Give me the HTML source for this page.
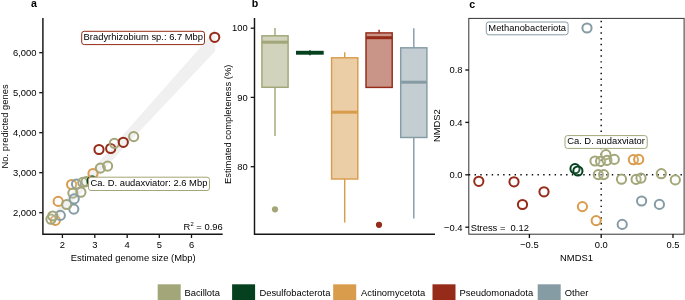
<!DOCTYPE html><html><head><meta charset="utf-8"><title>Figure</title><style>html,body{margin:0;padding:0;background:#fff}svg{display:block;will-change:transform}text{font-family:"Liberation Sans",sans-serif;font-size:9.4px;fill:#000}</style></head><body>
<svg width="685" height="300" viewBox="0 0 685 300">
<rect width="685" height="300" fill="#fff"/>
<text transform="translate(31,7.4) scale(1,1.04)" font-weight="bold" style="font-size:10.6px">a</text>
<polygon points="215.3,28.6 215.3,50.9 50,226.1 50,217.5 203,44.6" fill="#f0f0f0"/>
<path d="M42.9,18 V234.3 H222.7" fill="none" stroke="#151515" stroke-width="1.45"/>
<path d="M39.2,52.7 H42.8" stroke="#151515" stroke-width="1.3"/>
<text transform="translate(36.5,55.8) scale(1,1.04)" text-anchor="end">6,000</text>
<path d="M39.2,92.7 H42.8" stroke="#151515" stroke-width="1.3"/>
<text transform="translate(36.5,95.8) scale(1,1.04)" text-anchor="end">5,000</text>
<path d="M39.2,132.7 H42.8" stroke="#151515" stroke-width="1.3"/>
<text transform="translate(36.5,135.8) scale(1,1.04)" text-anchor="end">4,000</text>
<path d="M39.2,172.7 H42.8" stroke="#151515" stroke-width="1.3"/>
<text transform="translate(36.5,175.8) scale(1,1.04)" text-anchor="end">3,000</text>
<path d="M39.2,212.7 H42.8" stroke="#151515" stroke-width="1.3"/>
<text transform="translate(36.5,215.8) scale(1,1.04)" text-anchor="end">2,000</text>
<path d="M62.4,234.2 V238" stroke="#151515" stroke-width="1.3"/>
<text transform="translate(62.4,248) scale(1,1.04)" text-anchor="middle">2</text>
<path d="M94.8,234.2 V238" stroke="#151515" stroke-width="1.3"/>
<text transform="translate(94.8,248) scale(1,1.04)" text-anchor="middle">3</text>
<path d="M127.2,234.2 V238" stroke="#151515" stroke-width="1.3"/>
<text transform="translate(127.2,248) scale(1,1.04)" text-anchor="middle">4</text>
<path d="M159.3,234.2 V238" stroke="#151515" stroke-width="1.3"/>
<text transform="translate(159.3,248) scale(1,1.04)" text-anchor="middle">5</text>
<path d="M191.5,234.2 V238" stroke="#151515" stroke-width="1.3"/>
<text transform="translate(191.5,248) scale(1,1.04)" text-anchor="middle">6</text>
<text transform="translate(133.2,260.5) scale(1,1.04)" text-anchor="middle">Estimated genome size (Mbp)</text>
<text transform="translate(7.5,126.4) rotate(-90) scale(1,1.04)" text-anchor="middle">No. predicted genes</text>
<circle cx="55.3" cy="220.4" r="4.6" fill="rgba(255,255,255,0.12)" stroke="#d99c4d" stroke-width="2.0"/>
<circle cx="58.2" cy="201.4" r="4.6" fill="rgba(255,255,255,0.12)" stroke="#d99c4d" stroke-width="2.0"/>
<circle cx="71.6" cy="184.5" r="4.6" fill="rgba(255,255,255,0.12)" stroke="#d99c4d" stroke-width="2.0"/>
<circle cx="60.3" cy="215.4" r="4.6" fill="rgba(255,255,255,0.12)" stroke="#869ca5" stroke-width="2.0"/>
<circle cx="73.8" cy="209.1" r="4.6" fill="rgba(255,255,255,0.12)" stroke="#869ca5" stroke-width="2.0"/>
<circle cx="76.5" cy="184.1" r="4.6" fill="rgba(255,255,255,0.12)" stroke="#869ca5" stroke-width="2.0"/>
<circle cx="51" cy="219.2" r="4.6" fill="rgba(255,255,255,0.12)" stroke="#a3a678" stroke-width="2.0"/>
<circle cx="52.8" cy="216" r="4.6" fill="rgba(255,255,255,0.12)" stroke="#a3a678" stroke-width="2.0"/>
<circle cx="66.7" cy="204.5" r="4.6" fill="rgba(255,255,255,0.12)" stroke="#a3a678" stroke-width="2.0"/>
<circle cx="72.9" cy="193.1" r="4.6" fill="rgba(255,255,255,0.12)" stroke="#a3a678" stroke-width="2.0"/>
<circle cx="80.9" cy="192.2" r="4.6" fill="rgba(255,255,255,0.12)" stroke="#a3a678" stroke-width="2.0"/>
<circle cx="82.8" cy="182.4" r="4.6" fill="rgba(255,255,255,0.12)" stroke="#a3a678" stroke-width="2.0"/>
<circle cx="86.1" cy="181.6" r="4.6" fill="rgba(255,255,255,0.12)" stroke="#a3a678" stroke-width="2.0"/>
<circle cx="74.2" cy="198.9" r="4.6" fill="rgba(255,255,255,0.12)" stroke="#869ca5" stroke-width="2.0"/>
<circle cx="92.1" cy="180.9" r="4.6" fill="rgba(255,255,255,0.12)" stroke="#06411f" stroke-width="2.0"/>
<circle cx="93" cy="173.5" r="4.6" fill="rgba(255,255,255,0.12)" stroke="#d99c4d" stroke-width="2.0"/>
<circle cx="100.4" cy="168.1" r="4.6" fill="rgba(255,255,255,0.12)" stroke="#a3a678" stroke-width="2.0"/>
<circle cx="107.6" cy="166.1" r="4.6" fill="rgba(255,255,255,0.12)" stroke="#a3a678" stroke-width="2.0"/>
<circle cx="99" cy="149.5" r="4.6" fill="rgba(255,255,255,0.12)" stroke="#952b18" stroke-width="2.0"/>
<circle cx="110.7" cy="148.5" r="4.6" fill="rgba(255,255,255,0.12)" stroke="#952b18" stroke-width="2.0"/>
<circle cx="114.4" cy="143.3" r="4.6" fill="rgba(255,255,255,0.12)" stroke="#a3a678" stroke-width="2.0"/>
<circle cx="123.3" cy="142.3" r="4.6" fill="rgba(255,255,255,0.12)" stroke="#952b18" stroke-width="2.0"/>
<circle cx="133.7" cy="136.6" r="4.6" fill="rgba(255,255,255,0.12)" stroke="#a3a678" stroke-width="2.0"/>
<circle cx="214.7" cy="37.3" r="4.6" fill="rgba(255,255,255,0.12)" stroke="#952b18" stroke-width="2.0"/>
<rect x="81.7" y="31.3" width="122.8" height="13.3" rx="2.5" fill="#fff" stroke="#952b18" stroke-width="1"/>
<text transform="translate(143.3,40.2) scale(1,1.04)" text-anchor="middle">Bradyrhizobium sp.: 6.7 Mbp</text>
<rect x="88.5" y="177.2" width="121" height="13.3" rx="2.5" fill="#fff" stroke="#a3a678" stroke-width="1"/>
<text transform="translate(148.9,186.3) scale(1,1.04)" text-anchor="middle">Ca. D. audaxviator: 2.6 Mbp</text>
<text transform="translate(222.7,230.2) scale(1,1.04)" text-anchor="end">R<tspan dy="-4" dx="0.3" style="font-size:5.8px">2</tspan><tspan dy="4"> = 0.96</tspan></text>
<text transform="translate(251.8,7.4) scale(1,1.04)" font-weight="bold" style="font-size:10.6px">b</text>
<path d="M254.5,18 V234.3 H435" fill="none" stroke="#151515" stroke-width="1.45"/>
<path d="M250.7,28.2 H254.5" stroke="#151515" stroke-width="1.3"/>
<text transform="translate(247.7,31.3) scale(1,1.04)" text-anchor="end">100</text>
<path d="M250.7,97.4 H254.5" stroke="#151515" stroke-width="1.3"/>
<text transform="translate(247.7,100.5) scale(1,1.04)" text-anchor="end">90</text>
<path d="M250.7,166.7 H254.5" stroke="#151515" stroke-width="1.3"/>
<text transform="translate(247.7,169.8) scale(1,1.04)" text-anchor="end">80</text>
<text transform="translate(230.9,124.3) rotate(-90) scale(1,1.04)" text-anchor="middle">Estimated completeness (%)</text>
<path d="M275,28 V35.8 M275,87.3 V136" stroke="#a3a678" stroke-width="1.45"/>
<rect x="261.9" y="35.8" width="26.2" height="51.5" fill="#d1d3bc" stroke="#a3a678" stroke-width="1.45"/>
<path d="M261.9,42.2 H288.09999999999997" stroke="#a3a678" stroke-width="3"/>
<rect x="296" y="50.8" width="27.7" height="3.9" fill="#06411f"/>
<rect x="309.2" y="50.2" width="1.5" height="5.1" fill="#06411f"/>
<path d="M344.7,52.2 V57.8 M344.7,179 V222.5" stroke="#d99c4d" stroke-width="1.45"/>
<rect x="331.59999999999997" y="57.8" width="26.2" height="121.2" fill="#eccea6" stroke="#d99c4d" stroke-width="1.45"/>
<path d="M331.59999999999997,112.2 H357.79999999999995" stroke="#d99c4d" stroke-width="3"/>
<path d="M379.1,29.8 V32.9 M379.1,87.4 V32.9" stroke="#952b18" stroke-width="1.45"/>
<rect x="366.0" y="32.9" width="26.2" height="54.50000000000001" fill="#ca9589" stroke="#952b18" stroke-width="1.45"/>
<path d="M366.0,37.7 H392.2" stroke="#952b18" stroke-width="3"/>
<path d="M413.8,28.2 V47.8 M413.8,137.5 V218.5" stroke="#869ca5" stroke-width="1.45"/>
<rect x="400.7" y="47.8" width="26.2" height="89.7" fill="#c3cdd2" stroke="#869ca5" stroke-width="1.45"/>
<path d="M400.7,82.2 H426.9" stroke="#869ca5" stroke-width="3"/>
<circle cx="275" cy="209.3" r="3.1" fill="#a3a678"/>
<circle cx="379" cy="224.8" r="3.1" fill="#952b18"/>
<text transform="translate(469.2,7.7) scale(1,1.04)" font-weight="bold" style="font-size:10.6px">c</text>
<rect x="468.8" y="18.4" width="215.3" height="215.8" fill="none" stroke="#333" stroke-width="1"/>
<path d="M601.2,20.68 V234" stroke="#111" stroke-width="1.5" stroke-dasharray="1.45 4.33"/>
<path d="M468.83,174.8 H684" stroke="#111" stroke-width="1.5" stroke-dasharray="1.43 4.29"/>
<path d="M465.3,70 H469" stroke="#151515" stroke-width="1.35"/>
<text transform="translate(462.5,73.3) scale(1,1.04)" text-anchor="end">0.8</text>
<path d="M465.3,122.4 H469" stroke="#151515" stroke-width="1.35"/>
<text transform="translate(462.5,125.7) scale(1,1.04)" text-anchor="end">0.4</text>
<path d="M465.3,174.8 H469" stroke="#151515" stroke-width="1.35"/>
<text transform="translate(462.5,178.10000000000002) scale(1,1.04)" text-anchor="end">0.0</text>
<path d="M465.3,227.2 H469" stroke="#151515" stroke-width="1.35"/>
<text transform="translate(462.5,230.5) scale(1,1.04)" text-anchor="end">−0.4</text>
<path d="M529.4,234 V238.1" stroke="#151515" stroke-width="1.35"/>
<text transform="translate(529.4,247.5) scale(1,1.04)" text-anchor="middle">−0.5</text>
<path d="M601.2,234 V238.1" stroke="#151515" stroke-width="1.35"/>
<text transform="translate(601.2,247.5) scale(1,1.04)" text-anchor="middle">0.0</text>
<path d="M673,234 V238.1" stroke="#151515" stroke-width="1.35"/>
<text transform="translate(673,247.5) scale(1,1.04)" text-anchor="middle">0.5</text>
<text transform="translate(576.5,260.9) scale(1,1.04)" text-anchor="middle">NMDS1</text>
<text transform="translate(440.4,125.6) rotate(-90) scale(1,1.04)" text-anchor="middle">NMDS2</text>
<circle cx="478.8" cy="181.3" r="4.6" fill="rgba(255,255,255,0.12)" stroke="#952b18" stroke-width="2.0"/>
<circle cx="514" cy="181.8" r="4.6" fill="rgba(255,255,255,0.12)" stroke="#952b18" stroke-width="2.0"/>
<circle cx="522.5" cy="204.5" r="4.6" fill="rgba(255,255,255,0.12)" stroke="#952b18" stroke-width="2.0"/>
<circle cx="544" cy="191.8" r="4.6" fill="rgba(255,255,255,0.12)" stroke="#952b18" stroke-width="2.0"/>
<circle cx="575" cy="168.7" r="4.6" fill="rgba(255,255,255,0.12)" stroke="#06411f" stroke-width="2.0"/>
<circle cx="577.9" cy="171" r="4.6" fill="rgba(255,255,255,0.12)" stroke="#06411f" stroke-width="2.0"/>
<circle cx="595" cy="161" r="4.6" fill="rgba(255,255,255,0.12)" stroke="#a3a678" stroke-width="2.0"/>
<circle cx="600.6" cy="161.3" r="4.6" fill="rgba(255,255,255,0.12)" stroke="#a3a678" stroke-width="2.0"/>
<circle cx="605.9" cy="154.6" r="4.6" fill="rgba(255,255,255,0.12)" stroke="#a3a678" stroke-width="2.0"/>
<circle cx="607" cy="160.3" r="4.6" fill="rgba(255,255,255,0.12)" stroke="#a3a678" stroke-width="2.0"/>
<circle cx="614.3" cy="159.4" r="4.6" fill="rgba(255,255,255,0.12)" stroke="#a3a678" stroke-width="2.0"/>
<circle cx="598.3" cy="174.6" r="4.6" fill="rgba(255,255,255,0.12)" stroke="#a3a678" stroke-width="2.0"/>
<circle cx="603.7" cy="174.6" r="4.6" fill="rgba(255,255,255,0.12)" stroke="#a3a678" stroke-width="2.0"/>
<circle cx="621.5" cy="179.2" r="4.6" fill="rgba(255,255,255,0.12)" stroke="#a3a678" stroke-width="2.0"/>
<circle cx="636.1" cy="179.4" r="4.6" fill="rgba(255,255,255,0.12)" stroke="#a3a678" stroke-width="2.0"/>
<circle cx="641" cy="178.1" r="4.6" fill="rgba(255,255,255,0.12)" stroke="#a3a678" stroke-width="2.0"/>
<circle cx="661.3" cy="173.7" r="4.6" fill="rgba(255,255,255,0.12)" stroke="#a3a678" stroke-width="2.0"/>
<circle cx="675.3" cy="179.9" r="4.6" fill="rgba(255,255,255,0.12)" stroke="#a3a678" stroke-width="2.0"/>
<circle cx="633.4" cy="159.7" r="4.6" fill="rgba(255,255,255,0.12)" stroke="#d99c4d" stroke-width="2.0"/>
<circle cx="638.7" cy="159.4" r="4.6" fill="rgba(255,255,255,0.12)" stroke="#d99c4d" stroke-width="2.0"/>
<circle cx="582.4" cy="206.6" r="4.6" fill="rgba(255,255,255,0.12)" stroke="#d99c4d" stroke-width="2.0"/>
<circle cx="596.2" cy="220.6" r="4.6" fill="rgba(255,255,255,0.12)" stroke="#d99c4d" stroke-width="2.0"/>
<circle cx="641.6" cy="201" r="4.6" fill="rgba(255,255,255,0.12)" stroke="#869ca5" stroke-width="2.0"/>
<circle cx="659.4" cy="204.4" r="4.6" fill="rgba(255,255,255,0.12)" stroke="#869ca5" stroke-width="2.0"/>
<circle cx="622.2" cy="224.4" r="4.6" fill="rgba(255,255,255,0.12)" stroke="#869ca5" stroke-width="2.0"/>
<circle cx="587" cy="28" r="4.6" fill="rgba(255,255,255,0.12)" stroke="#869ca5" stroke-width="2.0"/>
<rect x="486.3" y="22" width="81.8" height="12.8" rx="2.5" fill="#fff" stroke="#869ca5" stroke-width="1"/>
<text transform="translate(527.2,30.5) scale(1,1.04)" text-anchor="middle">Methanobacteriota</text>
<rect x="565" y="135.6" width="82.2" height="12.8" rx="2.5" fill="#fff" stroke="#a3a678" stroke-width="1"/>
<text transform="translate(606,144.2) scale(1,1.04)" text-anchor="middle">Ca. D. audaxviator</text>
<text transform="translate(470.7,231) scale(1,1.04)" style="white-space:pre">Stress =  0.12</text>
<rect x="157.7" y="284.3" width="23" height="15.7" fill="#a3a678"/>
<text transform="translate(184.4,295.9) scale(1,1.04)">Bacillota</text>
<rect x="232.1" y="284.3" width="23" height="15.7" fill="#06411f"/>
<text transform="translate(259.4,295.9) scale(1,1.04)">Desulfobacterota</text>
<rect x="333.2" y="284.3" width="23" height="15.7" fill="#d99c4d"/>
<text transform="translate(361,295.9) scale(1,1.04)">Actinomycetota</text>
<rect x="432.5" y="284.3" width="23" height="15.7" fill="#952b18"/>
<text transform="translate(459.5,295.9) scale(1,1.04)">Pseudomonadota</text>
<rect x="537.7" y="284.3" width="23" height="15.7" fill="#869ca5"/>
<text transform="translate(564.8,295.9) scale(1,1.04)">Other</text>
</svg></body></html>
